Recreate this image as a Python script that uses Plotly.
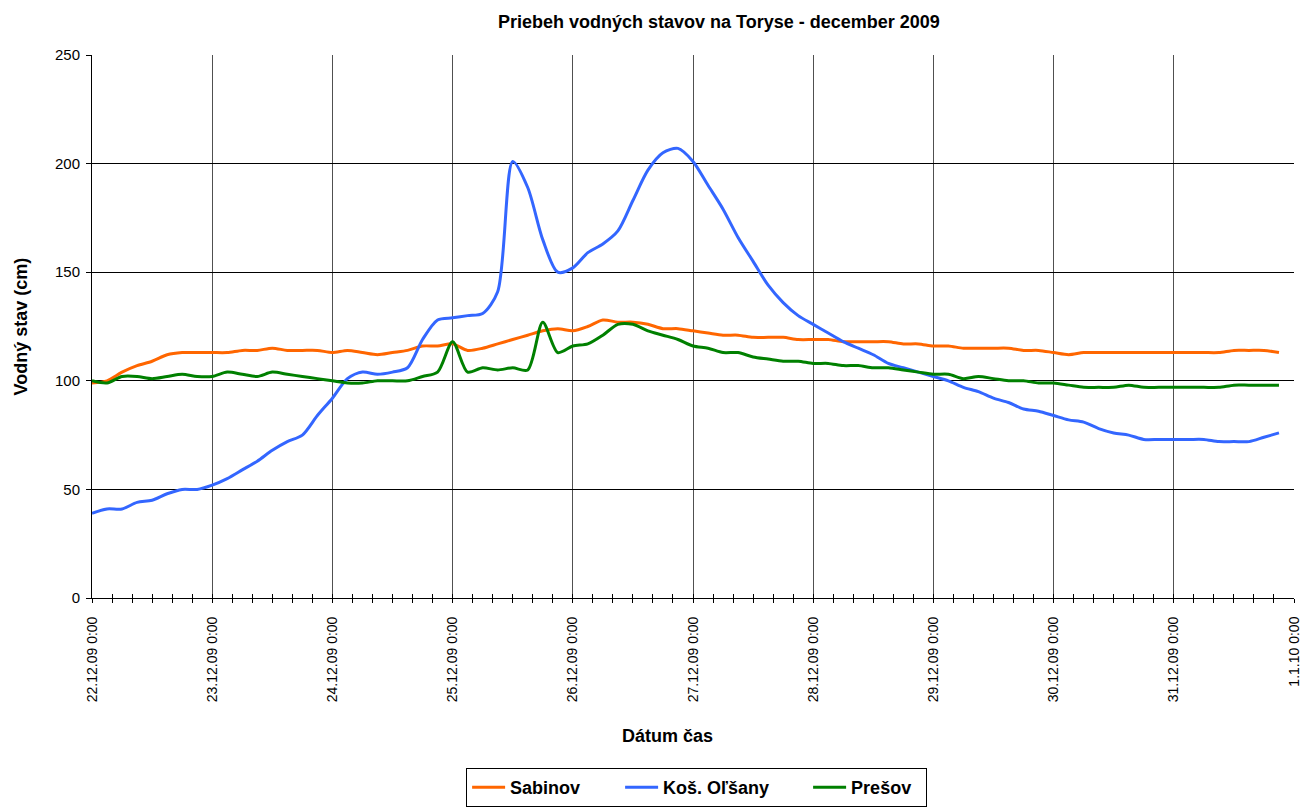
import pandas as pd
import plotly.graph_objects as go

# Water levels (cm), 3-hour readings from 22.12.2009 0:00 to 31.12.2009 21:00
times = pd.date_range("2009-12-22 00:00", periods=80, freq="3h")

sabinov = [
    99, 100, 104, 107, 109, 112, 113, 113,
    113, 113, 114, 114, 115, 114, 114, 114,
    113, 114, 113, 112, 113, 114, 116, 116,
    117, 114, 115, 117, 119, 121, 123, 124,
    123, 125, 128, 127, 127, 126, 124, 124,
    123, 122, 121, 121, 120, 120, 120, 119,
    119, 119, 118, 118, 118, 118, 117, 117,
    116, 116, 115, 115, 115, 115, 114, 114,
    113, 112, 113, 113, 113, 113, 113, 113,
    113, 113, 113, 113, 114, 114, 114, 113,
]

kos_olsany = [
    39, 41, 41, 44, 45, 48, 50, 50,
    52, 55, 59, 63, 68, 72, 75, 84,
    92, 101, 104, 103, 104, 106, 119, 128,
    129, 130, 131, 141, 201, 189, 165, 150,
    152, 159, 163, 169, 183, 197, 205, 207,
    201, 190, 179, 166, 155, 144, 136, 130,
    126, 122, 118, 115, 112, 108, 106, 104,
    102, 100, 97, 95, 92, 90, 87, 86,
    84, 82, 81, 78, 76, 75, 73, 73,
    73, 73, 73, 72, 72, 72, 74, 76,
]

presov = [
    100, 99, 102, 102, 101, 102, 103, 102,
    102, 104, 103, 102, 104, 103, 102, 101,
    100, 99, 99, 100, 100, 100, 102, 104,
    118, 104, 106, 105, 106, 105, 127, 113,
    116, 117, 121, 126, 126, 123, 121, 119,
    116, 115, 113, 113, 111, 110, 109, 109,
    108, 108, 107, 107, 106, 106, 105, 104,
    103, 103, 101, 102, 101, 100, 100, 99,
    99, 98, 97, 97, 97, 98, 97, 97,
    97, 97, 97, 97, 98, 98, 98, 98,
]

# name, values, colour, legend entry width (px)
series = [
    ("Sabinov", sabinov, "#FF6600", 105),
    ("Koš. Oľšany", kos_olsany, "#3366FF", 140),
    ("Prešov", presov, "#008000", 70),
]

y_ticks = [0, 50, 100, 150, 200, 250]
x_range = ["2009-12-22 00:00", "2010-01-01 00:00"]
DAY_MS = 86400000
FOUR_H_MS = 4 * 3600000

FONT = "Liberation Sans, Arial, sans-serif"

fig = go.Figure()
for name, values, color, lw in series:
    fig.add_trace(go.Scatter(
        x=times, y=values, name=name, mode="lines",
        line=dict(color=color, width=3, shape="spline", smoothing=0.8),
        legendwidth=lw,
    ))

# empty trace that carries the overlay axis used for the inner half of the tick marks
fig.add_trace(go.Scatter(x=[], y=[], xaxis="x2", showlegend=False, hoverinfo="skip"))

fig.update_layout(
    width=1303, height=810,
    margin=dict(l=92, r=9, t=55, b=212, autoexpand=False),
    paper_bgcolor="white", plot_bgcolor="white",
    font=dict(family=FONT, color="black", size=14),
    showlegend=True,
    legend=dict(
        orientation="h", x=0.503, xanchor="center", y=-0.313, yanchor="top",
        bordercolor="black", borderwidth=1,
        font=dict(family=FONT, size=18, color="black", weight="bold"),
        itemwidth=33, tracegroupgap=0,
    ),
    xaxis=dict(
        type="date", range=x_range, automargin=False,
        tick0="2009-12-22", dtick=DAY_MS,
        tickformat="%-d.%-m.%y %-H:%M", tickangle=-90,
        tickfont=dict(size=14), ticklabelstandoff=8,
        showgrid=True, gridcolor="#505050", gridwidth=1.4,
        showline=True, linecolor="black", linewidth=1,
        ticks="outside", ticklen=4, tickcolor="black",
        minor=dict(dtick=FOUR_H_MS, tick0="2009-12-22", ticks="outside",
                   ticklen=4, tickcolor="black", showgrid=False),
        zeroline=False, fixedrange=True,
    ),
    xaxis2=dict(
        type="date", range=x_range, overlaying="x", anchor="y", automargin=False,
        tick0="2009-12-22", dtick=DAY_MS,
        showticklabels=False, showgrid=False, showline=False,
        ticks="inside", ticklen=4, tickcolor="black",
        minor=dict(dtick=FOUR_H_MS, tick0="2009-12-22", ticks="inside",
                   ticklen=4, tickcolor="black", showgrid=False),
        zeroline=False, fixedrange=True,
    ),
    yaxis=dict(
        range=[0, 250], tickvals=y_ticks, automargin=False,
        tickfont=dict(size=15), ticklabelstandoff=3,
        showgrid=True, gridcolor="black", gridwidth=1,
        showline=True, linecolor="black", linewidth=1,
        ticks="outside", ticklen=5, tickcolor="black",
        zeroline=False, fixedrange=True,
    ),
    annotations=[
        dict(text="<b>Priebeh vodných stavov na Toryse - december 2009</b>",
             xref="paper", yref="paper", x=0.5216, y=1.0608,
             xanchor="center", yanchor="middle", showarrow=False,
             font=dict(family=FONT, size=18, color="black")),
        dict(text="<b>Dátum čas</b>",
             xref="paper", yref="paper", x=0.479, y=-0.254,
             xanchor="center", yanchor="middle", showarrow=False,
             font=dict(family=FONT, size=18, color="black")),
        dict(text="<b>Vodný stav (cm)</b>",
             xref="paper", yref="paper", x=-0.0599, y=0.5,
             xanchor="center", yanchor="middle", textangle=-90, showarrow=False,
             font=dict(family=FONT, size=18, color="black")),
    ],
)

fig.write_html("out.html")
